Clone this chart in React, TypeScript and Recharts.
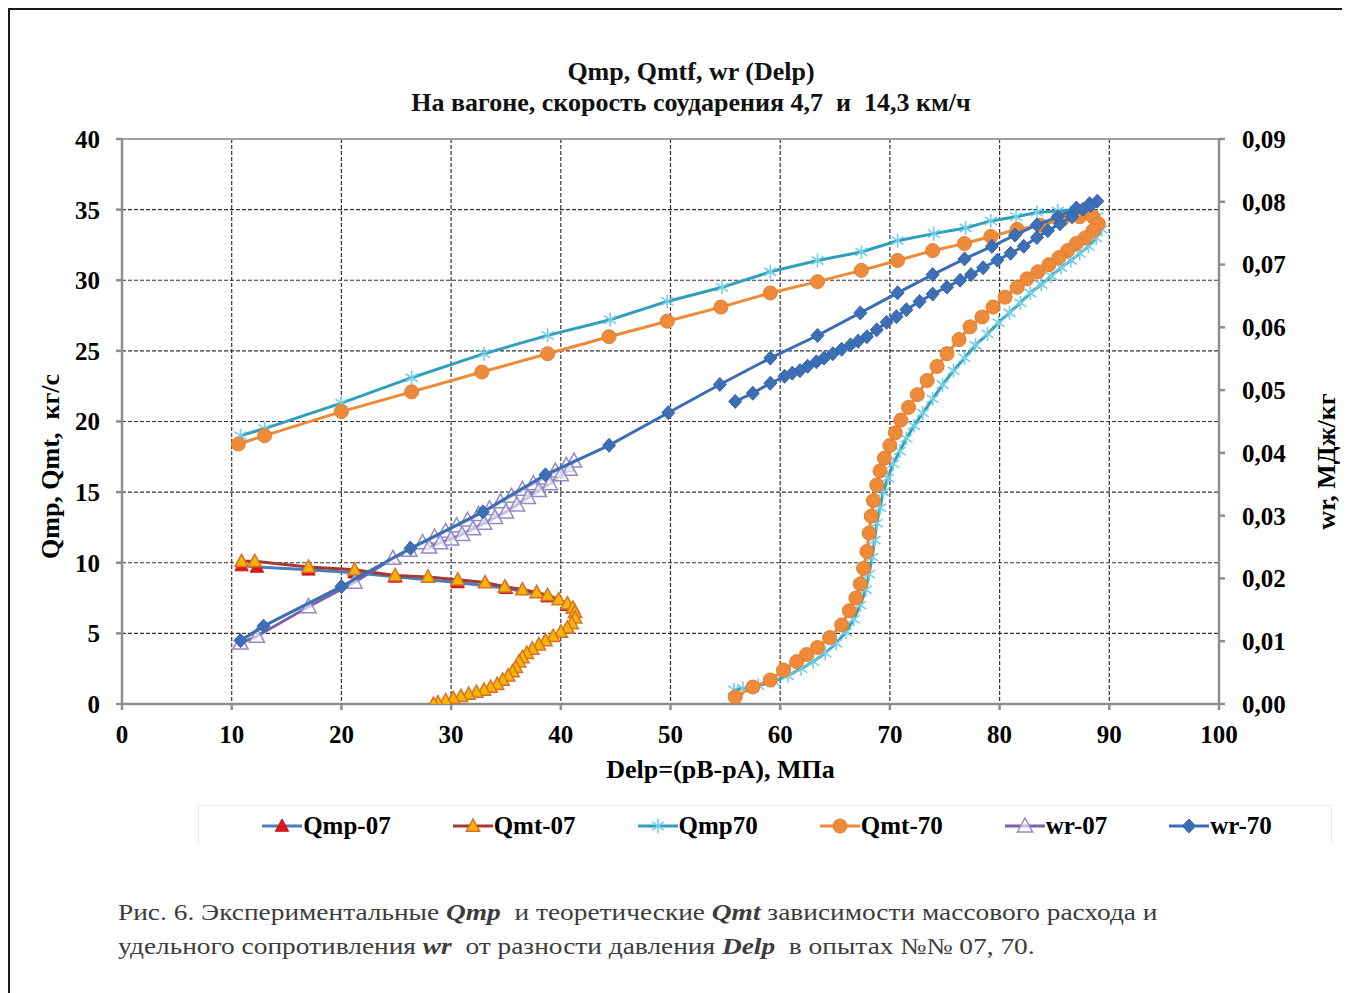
import React from "react";
import {
  ComposedChart,
  Scatter,
  XAxis,
  YAxis,
  CartesianGrid,
  ReferenceLine,
  Legend,
  Label,
} from "recharts";

// ---- data (Delp, value) pairs ----
const xTicks = [0, 10, 20, 30, 40, 50, 60, 70, 80, 90, 100];
const qTicks = [0, 5, 10, 15, 20, 25, 30, 35, 40];
const wrTicks = [0, 0.01, 0.02, 0.03, 0.04, 0.05, 0.06, 0.07, 0.08, 0.09];

const qmp07: [number, number][] = [
  [10.9, 9.8], [12.3, 9.7], [17.0, 9.5], [21.2, 9.3], [24.9, 9.0],
  [30.6, 8.6], [35.0, 8.2], [38.8, 7.6], [40.6, 7.0],
];

const qmt07: [number, number][] = [
  [10.9, 10.1], [12.1, 10.1], [17.0, 9.7], [21.2, 9.5], [24.9, 9.1], [27.9, 9.0],
  [30.6, 8.8], [33.1, 8.6], [34.9, 8.3], [36.5, 8.1], [37.8, 7.9], [38.8, 7.7],
  [39.8, 7.4], [40.6, 7.1], [41.1, 6.8], [41.3, 6.5], [41.3, 6.1], [41.0, 5.7],
  [40.6, 5.4], [40.0, 5.1], [39.3, 4.8], [38.6, 4.5], [38.0, 4.2], [37.4, 3.9],
  [36.9, 3.6], [36.5, 3.3], [36.2, 3.0], [35.9, 2.6], [35.6, 2.3], [35.2, 2.0],
  [34.7, 1.7], [34.2, 1.4], [33.6, 1.2], [33.0, 1.0], [32.3, 0.85], [31.6, 0.7],
  [30.9, 0.55], [30.2, 0.4], [29.5, 0.25], [28.8, 0.1], [28.4, 0.0],
];

const qmp70: [number, number][] = [
  [10.8, 19.0], [13.0, 19.5], [20.0, 21.3], [26.4, 23.1], [33.0, 24.8], [38.8, 26.1],
  [44.5, 27.2], [49.7, 28.5], [54.7, 29.5], [59.1, 30.6], [63.4, 31.4], [67.4, 32.0],
  [70.7, 32.8], [74.0, 33.3], [76.9, 33.7], [79.2, 34.2], [81.5, 34.5], [83.4, 34.8],
  [85.3, 34.9], [86.9, 35.0], [88.2, 34.9], [88.9, 34.5],
  [89.3, 33.6], [88.8, 33.0], [88.1, 32.4], [87.3, 31.9], [86.5, 31.4], [85.6, 30.9],
  [84.7, 30.3], [83.8, 29.7], [82.8, 29.1], [81.9, 28.4], [80.9, 27.7], [79.9, 27.0],
  [78.9, 26.2], [77.8, 25.4], [76.8, 24.5], [75.8, 23.6], [74.8, 22.6], [73.9, 21.6],
  [73.0, 20.6], [72.2, 19.7], [71.5, 18.8], [70.9, 17.9], [70.3, 17.0], [69.8, 16.0],
  [69.4, 15.0], [69.1, 13.9], [68.8, 12.8], [68.6, 11.6], [68.4, 10.4], [68.1, 9.2],
  [67.8, 8.1], [67.3, 7.0], [66.7, 6.0], [66.0, 5.1], [65.1, 4.3], [64.1, 3.6],
  [63.0, 3.0], [61.9, 2.5], [60.7, 2.0], [59.4, 1.6], [58.0, 1.3], [56.6, 1.1], [55.8, 1.0],
];

const qmt70: [number, number][] = [
  [10.6, 18.4], [13.0, 19.0], [20.0, 20.7], [26.4, 22.1], [32.8, 23.5], [38.8, 24.8],
  [44.4, 26.0], [49.7, 27.1], [54.6, 28.1], [59.1, 29.1], [63.4, 29.9], [67.4, 30.7],
  [70.7, 31.4], [73.9, 32.1], [76.8, 32.6], [79.2, 33.1], [81.6, 33.6], [83.7, 33.9],
  [85.7, 34.3], [87.3, 34.5], [88.5, 34.5],
  [89.0, 34.0], [88.5, 33.5], [87.8, 33.0], [87.0, 32.6], [86.2, 32.1], [85.4, 31.6],
  [84.5, 31.1], [83.5, 30.6], [82.5, 30.1], [81.6, 29.5], [80.5, 28.8], [79.4, 28.1],
  [78.4, 27.4], [77.3, 26.7], [76.3, 25.8], [75.2, 24.8], [74.3, 23.9], [73.4, 22.9],
  [72.5, 21.9], [71.7, 21.0], [71.0, 20.1], [70.5, 19.2], [70.0, 18.3], [69.5, 17.4],
  [69.1, 16.5], [68.8, 15.5], [68.5, 14.4], [68.3, 13.3], [68.1, 12.1], [67.9, 10.8],
  [67.6, 9.6], [67.3, 8.5], [66.9, 7.5], [66.3, 6.6], [65.6, 5.6], [64.5, 4.7],
  [63.4, 4.0], [62.4, 3.5], [61.5, 3.0], [60.3, 2.4], [59.1, 1.7], [57.5, 1.2], [55.9, 0.5],
];

// wr in МДж/кг (right axis)
const wr07: [number, number][] = [
  [10.8, 0.0097], [12.3, 0.0108], [17.0, 0.0155], [21.2, 0.0194], [24.7, 0.0232],
  [26.2, 0.0245], [27.4, 0.0257], [28.5, 0.0266], [29.5, 0.0275], [30.5, 0.0284],
  [31.5, 0.0293], [32.5, 0.0302], [33.5, 0.0311], [34.5, 0.0322], [35.5, 0.0331],
  [36.5, 0.0342], [37.5, 0.0351], [38.5, 0.036], [39.5, 0.0371], [40.5, 0.038],
  [41.2, 0.0387], [40.8, 0.0374], [40.0, 0.0365], [39.0, 0.0351], [38.0, 0.034],
  [37.0, 0.0329], [36.0, 0.0317], [35.0, 0.0306], [34.0, 0.0297], [33.0, 0.0288],
  [32.0, 0.0279], [31.0, 0.027], [30.0, 0.0263], [29.0, 0.0257], [28.0, 0.025],
];

const wr70: [number, number][] = [
  [10.8, 0.0101], [12.9, 0.0124], [20.0, 0.0187], [26.3, 0.0248], [32.9, 0.0306],
  [38.6, 0.0365], [44.4, 0.0412], [49.8, 0.0464], [54.5, 0.0509], [59.1, 0.0551],
  [63.4, 0.0587], [67.3, 0.0623], [70.7, 0.0655], [73.9, 0.0684], [76.8, 0.0709],
  [79.3, 0.0729], [81.4, 0.0747], [83.4, 0.0763], [85.3, 0.0776], [87.0, 0.079],
  [88.2, 0.0797], [88.9, 0.0801],
  [88.3, 0.0794], [87.6, 0.0788], [86.6, 0.0776], [85.5, 0.0765], [84.4, 0.0754],
  [83.4, 0.0743], [82.2, 0.0729], [81.0, 0.0718], [79.8, 0.0707], [78.5, 0.0695],
  [77.4, 0.0684], [76.4, 0.0675], [75.2, 0.0664], [73.9, 0.0653], [72.7, 0.0641],
  [71.5, 0.0628], [70.6, 0.0617], [69.7, 0.0608], [68.8, 0.0596], [67.9, 0.0585],
  [67.1, 0.0578], [66.4, 0.0572], [65.6, 0.0565], [64.8, 0.0558], [64.0, 0.0551],
  [63.3, 0.0545], [62.5, 0.0538], [61.8, 0.0531], [61.1, 0.0527], [60.4, 0.0522],
  [59.1, 0.0511], [57.5, 0.0495], [55.9, 0.0482],
];

type MarkerKind = "triRed" | "triGold" | "star" | "circle" | "triOpen" | "diamond";

const series: {
  name: string;
  data: [number, number][];
  axis: "q" | "wr";
  color: string;
  marker: MarkerKind;
}[] = [
  { name: "Qmp-07", data: qmp07, axis: "q", color: "#4a7ebb", marker: "triRed" },
  { name: "Qmt-07", data: qmt07, axis: "q", color: "#a33a36", marker: "triGold" },
  { name: "Qmp70", data: qmp70, axis: "q", color: "#2f9fba", marker: "star" },
  { name: "Qmt-70", data: qmt70, axis: "q", color: "#ec8a37", marker: "circle" },
  { name: "wr-07", data: wr07, axis: "wr", color: "#7d60a8", marker: "triOpen" },
  { name: "wr-70", data: wr70, axis: "wr", color: "#3b6db4", marker: "diamond" },
];

const SERIF = '"Liberation Serif", "Times New Roman", serif';
const tickStyle = { fontFamily: SERIF, fontSize: 25, fontWeight: 700, fill: "#000" };
const AXIS_GRAY = "#8e8e8e";

function Marker({ kind, cx, cy }: { kind: MarkerKind; cx: number; cy: number }) {
  if (cx == null || cy == null) return null;
  const tri = (s: number) =>
    `${cx},${cy - s} ${cx + s * 0.95},${cy + s * 0.75} ${cx - s * 0.95},${cy + s * 0.75}`;
  switch (kind) {
    case "triRed":
      return <polygon points={tri(7)} fill="#e3171b" stroke="#c01418" strokeWidth={1} />;
    case "triGold":
      return <polygon points={tri(7)} fill="#f5b400" stroke="#d9702a" strokeWidth={1.5} />;
    case "star":
      return (
        <g stroke="#74cfe6" strokeWidth={1.6}>
          <line x1={cx} y1={cy - 7} x2={cx} y2={cy + 7} />
          <line x1={cx - 6} y1={cy - 4} x2={cx + 6} y2={cy + 4} />
          <line x1={cx - 6} y1={cy + 4} x2={cx + 6} y2={cy - 4} />
        </g>
      );
    case "circle":
      return <circle cx={cx} cy={cy} r={7} fill="#ee8b3a" stroke="#e27d2e" strokeWidth={1} />;
    case "triOpen":
      return <polygon points={tri(8)} fill="#ffffff" fillOpacity={0.6} stroke="#9389c8" strokeWidth={1.5} />;
    case "diamond":
      return (
        <polygon
          points={`${cx},${cy - 7} ${cx + 6.5},${cy} ${cx},${cy + 7} ${cx - 6.5},${cy}`}
          fill="#3d6fb6"
          stroke="#3563a8"
          strokeWidth={1}
        />
      );
  }
  return null;
}

function LegendBox() {
  return (
    <div
      style={{
        height: 40,
        border: "1px solid #ececec",
        borderBottom: "none",
        display: "flex",
        alignItems: "center",
        justifyContent: "center",
        gap: 62,
        boxSizing: "border-box",
        paddingLeft: 4,
      }}
    >
      {series.map((s) => (
        <div key={s.name} style={{ display: "flex", alignItems: "center" }}>
          <svg width={40} height={24}>
            <line x1={0} y1={12} x2={40} y2={12} stroke={s.color} strokeWidth={3} />
            <Marker kind={s.marker} cx={20} cy={12} />
          </svg>
          <span
            style={{ fontFamily: SERIF, fontSize: 25, fontWeight: 700, color: "#000", marginLeft: 1 }}
          >
            {s.name}
          </span>
        </div>
      ))}
    </div>
  );
}

export default function App() {
  return (
    <div
      style={{
        position: "relative",
        width: 1338,
        height: 985,
        border: "2px solid #1a1a1a",
        borderBottom: "none",
        boxSizing: "border-box",
        background: "#fff",
      }}
    >
      <div
        style={{
          position: "absolute",
          left: 281,
          top: 46,
          width: 800,
          textAlign: "center",
          fontFamily: SERIF,
          fontWeight: 700,
          fontSize: 26,
          lineHeight: "31px",
          color: "#111",
        }}
      >
        <div>Qmp, Qmtf, wr (Delp)</div>
        <div style={{ whiteSpace: "pre" }}>На вагоне, скорость соударения 4,7  и  14,3 км/ч</div>
      </div>

      <div style={{ position: "absolute", left: 0, top: 0 }}>
        <ComposedChart
          width={1330}
          height={850}
          margin={{ top: 129, right: 30, left: 30, bottom: 15 }}
        >
          <CartesianGrid
            yAxisId="q"
            stroke="#333"
            strokeWidth={1.2}
            strokeDasharray="4 2"
          />
          <XAxis
            type="number"
            dataKey="x"
            domain={[0, 100]}
            ticks={xTicks}
            allowDataOverflow
            height={101}
            stroke={AXIS_GRAY}
            strokeWidth={2.5}
            tickSize={6}
            tickMargin={15}
            tick={tickStyle}
          >
            <Label
              content={({ viewBox }: any) => (
                <text
                  x={viewBox.x + viewBox.width / 2 + 50}
                  y={viewBox.y + 74}
                  textAnchor="middle"
                  fontFamily={SERIF}
                  fontSize={26}
                  fontWeight={700}
                  fill="#000"
                >
                  Delp=(pB-pA), МПа
                </text>
              )}
            />
          </XAxis>
          <YAxis
            yAxisId="q"
            type="number"
            dataKey="y"
            domain={[0, 40]}
            ticks={qTicks}
            allowDataOverflow
            width={82}
            stroke={AXIS_GRAY}
            strokeWidth={2.5}
            tickSize={6}
            tickMargin={16}
            tick={tickStyle}
          >
            <Label
              content={({ viewBox }: any) => {
                const cx = viewBox.x + 10;
                const cy = viewBox.y + viewBox.height / 2 + 45;
                return (
                  <text
                    x={cx}
                    y={cy}
                    transform={`rotate(-90 ${cx} ${cy})`}
                    textAnchor="middle"
                    dominantBaseline="central"
                    fontFamily={SERIF}
                    fontSize={26}
                    fontWeight={700}
                    fill="#000"
                    style={{ whiteSpace: "pre" }}
                  >
                    {"Qmp, Qmt,  кг/с"}
                  </text>
                );
              }}
            />
          </YAxis>
          <YAxis
            yAxisId="wr"
            orientation="right"
            type="number"
            dataKey="y"
            domain={[0, 0.09]}
            ticks={wrTicks}
            allowDataOverflow
            width={91}
            stroke={AXIS_GRAY}
            strokeWidth={2.5}
            tickSize={6}
            tickMargin={17}
            tick={tickStyle}
            tickFormatter={(v: number) => v.toFixed(2).replace(".", ",")}
          >
            <Label
              content={({ viewBox }: any) => {
                const cx = viewBox.x + 107;
                const cy = viewBox.y + viewBox.height / 2 + 40;
                return (
                  <text
                    x={cx}
                    y={cy}
                    transform={`rotate(-90 ${cx} ${cy})`}
                    textAnchor="middle"
                    dominantBaseline="central"
                    fontFamily={SERIF}
                    fontSize={26}
                    fontWeight={700}
                    fill="#000"
                  >
                    wr, МДж/кг
                  </text>
                );
              }}
            />
          </YAxis>
          <ReferenceLine yAxisId="q" y={40} stroke="#a0a0a0" strokeWidth={2} />

          {series.map((s) => (
            <Scatter
              key={s.name}
              name={s.name}
              yAxisId={s.axis}
              data={s.data.map(([x, y]) => ({ x, y }))}
              line={{ stroke: s.color, strokeWidth: 3 }}
              lineType="joint"
              shape={(p: any) => <Marker kind={s.marker} cx={p.cx} cy={p.cy} />}
              isAnimationActive={false}
            />
          ))}

          <Legend
            verticalAlign="bottom"
            height={40}
            wrapperStyle={{ left: 188, width: 1134 }}
            content={() => <LegendBox />}
          />
        </ComposedChart>
      </div>

      <div
        style={{
          position: "absolute",
          left: 108,
          top: 886,
          fontFamily: SERIF,
          fontSize: 23,
          lineHeight: "34px",
          color: "#3c3c3c",
          whiteSpace: "pre",
          transform: "scaleX(1.19)",
          transformOrigin: "left top",
        }}
      >
        <div>
          {"Рис. 6. Экспериментальные "}
          <b><i>Qmp</i></b>
          {"  и теоретические "}
          <b><i>Qmt</i></b>
          {" зависимости массового расхода и"}
        </div>
        <div>
          {"удельного сопротивления "}
          <b><i>wr</i></b>
          {"  от разности давления "}
          <b><i>Delp</i></b>
          {"  в опытах №№ 07, 70."}
        </div>
      </div>
    </div>
  );
}
